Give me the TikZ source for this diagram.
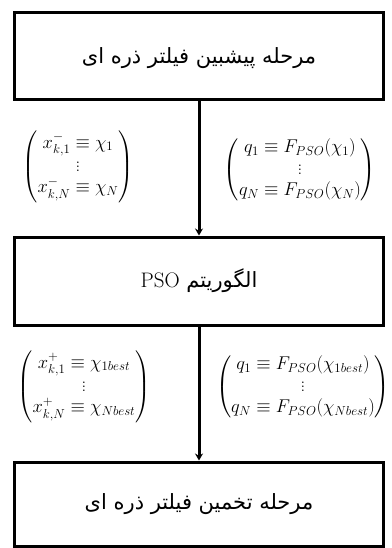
\RequirePackage{fix-cm}
\documentclass[tikz,border=0pt]{standalone}
\usepackage{amsmath}
\usepackage{fontspec}
\newfontfamily\arabicfont[Script=Arabic]{DejaVu Sans}
\TeXXeTstate=1
\usetikzlibrary{arrows.meta}
\begin{document}
\begin{tikzpicture}[x=1pt,y=-1pt,
  box/.style={draw, line width=3pt, minimum width=369pt, inner sep=0pt},
  conn/.style={line width=3pt, -{Stealth[length=7pt,width=8pt]}},
  lbl/.style={font=\fontsize{18.5}{21}\selectfont, inner sep=0pt},
  ttl/.style={font=\arabicfont\fontsize{21}{25}\selectfont}]
\useasboundingbox (0,0) rectangle (391,548);
\node[box, minimum height=87pt, ttl, text depth=2pt] (b1) at (199,56.5) {\beginR مرحله پیشبین فیلتر ذره ای\endR};
\node[box, minimum height=88pt, ttl] (b2) at (199,281) {\beginR الگوریتم \beginL{\rmfamily\fontsize{21}{24}\selectfont PSO}\endL{}\endR};
\node[box, minimum height=84pt, ttl] (b3) at (199,504) {\beginR مرحله تخمین فیلتر ذره ای\endR};
\draw[conn] (b1.south) -- (b2.north);
\draw[conn] (b2.south) -- (b3.north);
\node[lbl] (m1) at (78,167) {$\begin{pmatrix} x_{k,1}^{-} \equiv \chi_1 \\ \vdots \\ x_{k,N}^{-} \equiv \chi_N \end{pmatrix}$};
\node[lbl] (m2) at (300,170) {$\begin{pmatrix} q_1 \equiv F_{PSO}(\chi_1) \\ \vdots \\ q_N \equiv F_{PSO}(\chi_N) \end{pmatrix}$};
\node[lbl] (m3) at (84,387) {$\begin{pmatrix} x_{k,1}^{+} \equiv \chi_{1best} \\ \vdots \\ x_{k,N}^{+} \equiv \chi_{Nbest} \end{pmatrix}$};
\node[lbl] (m4) at (303,387) {$\begin{pmatrix} q_1 \equiv F_{PSO}(\chi_{1best}) \\ \vdots \\ q_N \equiv F_{PSO}(\chi_{Nbest}) \end{pmatrix}$};
\end{tikzpicture}
\end{document}
